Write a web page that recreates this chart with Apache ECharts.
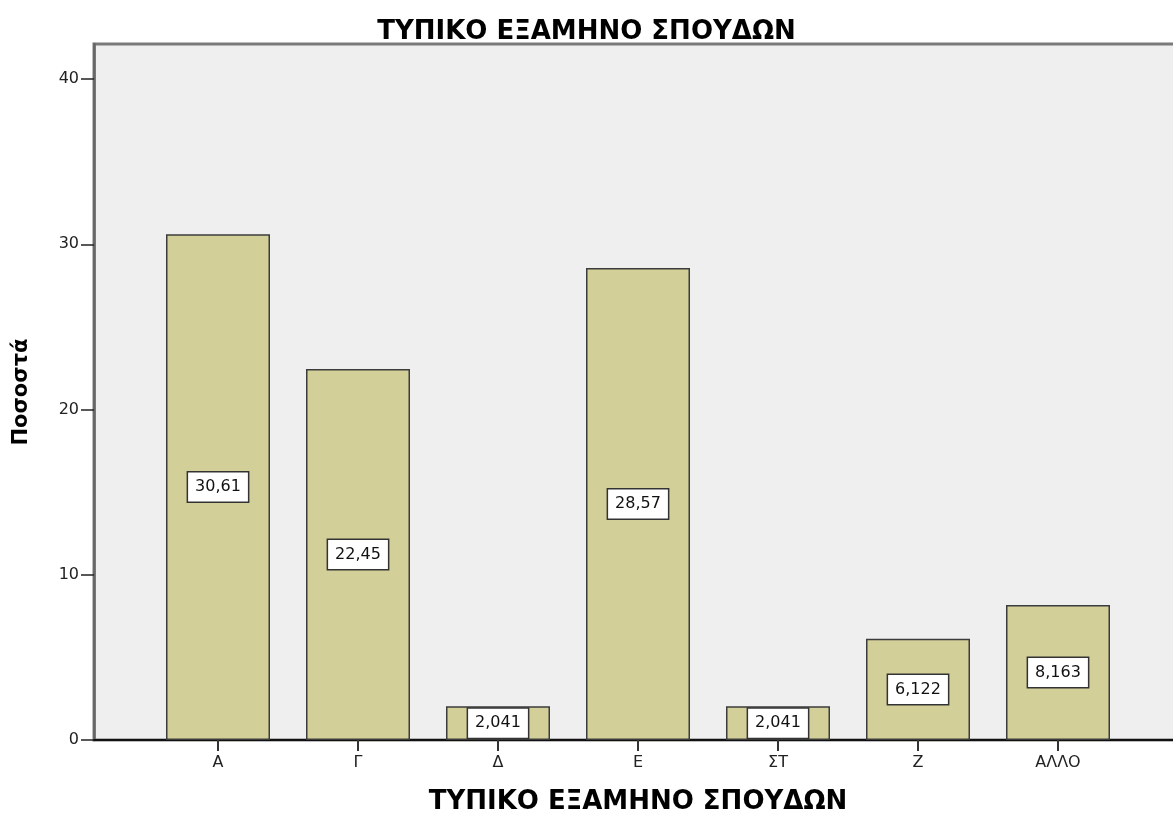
<!DOCTYPE html>
<html>
<head>
<meta charset="utf-8">
<style>
  html, body { margin: 0; padding: 0; background: #fff; }
  #chart { width: 1173px; height: 814px; }
</style>
<script src="https://cdn.jsdelivr.net/npm/echarts@6/dist/echarts.min.js"></script>
</head>
<body>
<div id="chart"></div>
<script>
const categories = ['Α', 'Γ', 'Δ', 'Ε', 'ΣΤ', 'Ζ', 'ΑΛΛΟ']
const percentages = [30.61, 22.45, 2.041, 28.57, 2.041, 6.122, 8.163]
const yTicks = [0, 10, 20, 30, 40]

const chartTitle = 'ΤΥΠΙΚΟ ΕΞΑΜΗΝΟ ΣΠΟΥΔΩΝ'
const xName = 'ΤΥΠΙΚΟ ΕΞΑΜΗΝΟ ΣΠΟΥΔΩΝ'
const yName = 'Ποσοστά'

const font = 'DejaVu Sans'
const yMax = 42.12

const chart = echarts.init(document.getElementById('chart'))

chart.setOption({
  animation: false,
  backgroundColor: '#fff',
  title: {
    text: chartTitle,
    left: 'center',
    top: 14,
    textStyle: { fontFamily: font, fontWeight: 'bold', fontSize: 26, color: '#000' },
  },
  grid: [
    // frame of the plot (gray background, y axis)
    { left: 94, right: -5, top: 44, bottom: 74, outerBoundsMode: 'none', show: true, backgroundColor: '#efefef', borderColor: '#7a7a7a', borderWidth: 3 },
    // inner area where the bars are placed
    { left: 148, right: 45, top: 44, bottom: 74, outerBoundsMode: 'none' },
  ],
  xAxis: [
    {
      gridIndex: 0,
      type: 'value',
      min: 0,
      max: 1,
      axisLine: { show: true, lineStyle: { color: '#111', width: 2 } },
      axisTick: { show: false },
      axisLabel: { show: false },
      splitLine: { show: false },
    },
    {
      gridIndex: 1,
      type: 'category',
      data: categories,
      axisLine: { show: false },
      axisTick: { show: true, alignWithLabel: true, length: 11, lineStyle: { color: '#333', width: 2 } },
      axisLabel: { color: '#222', fontFamily: font, fontSize: 16, margin: 15 },
      name: xName,
      nameLocation: 'middle',
      nameGap: 49,
      nameTextStyle: { fontFamily: font, fontWeight: 'bold', fontSize: 26, color: '#000' },
    },
  ],
  yAxis: [
    {
      gridIndex: 0,
      type: 'value',
      min: 0,
      max: yMax,
      axisLine: { show: true, lineStyle: { color: '#666', width: 2.5 } },
      axisTick: { show: true, length: 13, customValues: yTicks, lineStyle: { color: '#222', width: 1.5 } },
      axisLabel: { customValues: yTicks, color: '#222', fontFamily: font, fontSize: 16, margin: 15 },
      splitLine: { show: false },
      name: yName,
      nameLocation: 'middle',
      nameGap: 62,
      nameTextStyle: { fontFamily: font, fontWeight: 'bold', fontSize: 21, color: '#000' },
    },
    {
      gridIndex: 1,
      type: 'value',
      min: 0,
      max: yMax,
      show: false,
    },
  ],
  series: [
    {
      type: 'bar',
      xAxisIndex: 1,
      yAxisIndex: 1,
      data: percentages,
      barWidth: 104,
      itemStyle: { color: '#d3cf98', borderColor: '#3c3c3c', borderWidth: 1.5 },
      label: {
        show: true,
        position: 'inside',
        formatter: (p) => String(p.value).replace('.', ','),
        fontFamily: font,
        fontSize: 16,
        color: '#111',
        backgroundColor: '#fff',
        borderColor: '#333',
        borderWidth: 1.5,
        padding: [7, 7, 6, 7],
      },
    },
  ],
})
</script>
</body>
</html>
